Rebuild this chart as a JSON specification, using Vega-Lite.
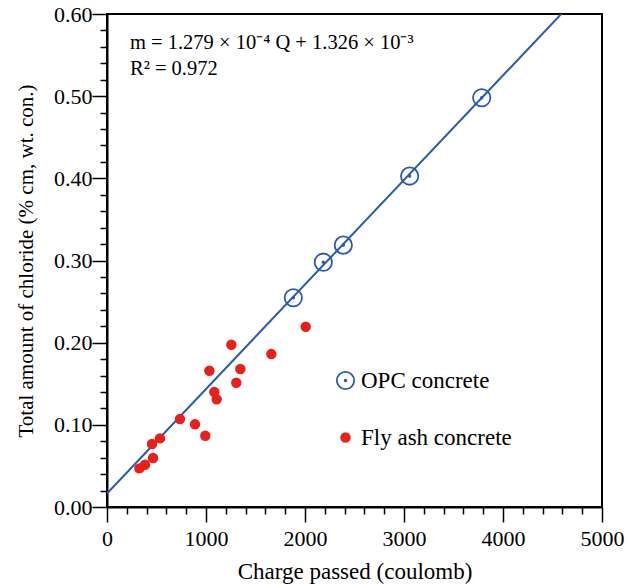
{
  "$schema": "https://vega.github.io/schema/vega-lite/v6.json",
  "width": 495,
  "height": 493,
  "autosize": {"type": "none"},
  "padding": {"left": 107, "top": 14, "right": 34, "bottom": 78},
  "background": "white",
  "config": {
    "font": "Liberation Serif",
    "view": {"stroke": "black", "strokeWidth": 2},
    "axis": {
      "grid": false,
      "domainColor": "black",
      "domainWidth": 2,
      "tickColor": "black",
      "tickWidth": 1.5,
      "labelFont": "Liberation Serif",
      "labelFontSize": 22,
      "labelColor": "black",
      "labelOverlap": false,
      "labelBound": false,
      "labelFlush": false,
      "titleFont": "Liberation Serif",
      "titleFontSize": 21,
      "titleFontWeight": "normal",
      "titleColor": "black"
    },
    "legend": {
      "labelFont": "Liberation Serif",
      "labelFontSize": 23,
      "labelColor": "black"
    }
  },
  "datasets": {
    "fit": [
      {"Q": 0, "m": 0.0165},
      {"Q": 4600, "m": 0.6015}
    ],
    "points": [
      {"type": "OPC concrete", "Q": 1882, "m": 0.2546},
      {"type": "OPC concrete", "Q": 2185, "m": 0.298},
      {"type": "OPC concrete", "Q": 2387, "m": 0.3187},
      {"type": "OPC concrete", "Q": 3057, "m": 0.4027},
      {"type": "OPC concrete", "Q": 3785, "m": 0.498},
      {"type": "Fly ash concrete", "Q": 2007, "m": 0.2194},
      {"type": "Fly ash concrete", "Q": 1256, "m": 0.1975},
      {"type": "Fly ash concrete", "Q": 1660, "m": 0.1861},
      {"type": "Fly ash concrete", "Q": 1034, "m": 0.1659},
      {"type": "Fly ash concrete", "Q": 1347, "m": 0.1679},
      {"type": "Fly ash concrete", "Q": 1306, "m": 0.1513},
      {"type": "Fly ash concrete", "Q": 1084, "m": 0.1399},
      {"type": "Fly ash concrete", "Q": 1108, "m": 0.131},
      {"type": "Fly ash concrete", "Q": 737, "m": 0.107},
      {"type": "Fly ash concrete", "Q": 889, "m": 0.1006},
      {"type": "Fly ash concrete", "Q": 993, "m": 0.0868},
      {"type": "Fly ash concrete", "Q": 535, "m": 0.0835},
      {"type": "Fly ash concrete", "Q": 455, "m": 0.0766},
      {"type": "Fly ash concrete", "Q": 465, "m": 0.0596},
      {"type": "Fly ash concrete", "Q": 384, "m": 0.0515},
      {"type": "Fly ash concrete", "Q": 327, "m": 0.047}
    ]
  },
  "layer": [
    {
      "data": {"name": "fit"},
      "mark": {"type": "line", "color": "#2a5cad", "strokeWidth": 2, "clip": true},
      "encoding": {
        "x": {
          "field": "Q", "type": "quantitative",
          "scale": {"domain": [0, 5000], "nice": false},
          "axis": {
            "orient": "bottom",
            "values": [0,200,400,600,800,1000,1200,1400,1600,1800,2000,2200,2400,2600,2800,3000,3200,3400,3600,3800,4000,4200,4400,4600,4800,5000],
            "tickCount": 100,
            "format": "d",
            "labelOverlap": false,
            "labelExpr": "datum.value % 1000 === 0 ? datum.label : ''",
            "tickSize": 15,
            "tickDash": {"condition": {"test": "datum.value % 1000 === 0", "value": [20, 0]}, "value": [7, 30]},
            "labelPadding": 6,
            "title": "Charge passed (coulomb)",
            "titleFontSize": 23,
            "titlePadding": 11
          }
        },
        "y": {
          "field": "m", "type": "quantitative",
          "scale": {"domain": [0, 0.6], "nice": false},
          "axis": {
            "orient": "left",
            "values": [0,0.02,0.04,0.06,0.08,0.1,0.12,0.14,0.16,0.18,0.2,0.22,0.24,0.26,0.28,0.3,0.32,0.34,0.36,0.38,0.4,0.42,0.44,0.46,0.48,0.5,0.52,0.54,0.56,0.58,0.6],
            "tickCount": 100,
            "format": ".2f",
            "labelOverlap": false,
            "labelExpr": "abs(datum.value * 10 - round(datum.value * 10)) < 0.001 ? datum.label : ''",
            "tickSize": 15,
            "tickDash": {"condition": {"test": "abs(datum.value * 10 - round(datum.value * 10)) < 0.001", "value": [20, 0]}, "value": [7, 30]},
            "labelPadding": 0,
            "title": "Total amount of chloride (% cm, wt. con.)",
            "titlePadding": 17
          }
        }
      }
    },
    {
      "data": {"name": "points"},
      "mark": {"type": "point", "opacity": 1, "strokeWidth": 1.8},
      "encoding": {
        "x": {"field": "Q", "type": "quantitative"},
        "y": {"field": "m", "type": "quantitative"},
        "shape": {
          "field": "type", "type": "nominal",
          "scale": {"domain": ["OPC concrete", "Fly ash concrete"], "range": ["M-1,0A1,1,0,1,1,1,0A1,1,0,1,1,-1,0ZM-0.1,0A0.1,0.1,0,1,1,0.1,0A0.1,0.1,0,1,1,-0.1,0Z", "circle"]},
          "legend": {"title": null, "orient": "none", "legendX": 227, "legendY": 355, "rowPadding": 33, "labelOffset": 4, "padding": 0, "symbolStrokeWidth": 1.8}
        },
        "stroke": {
          "field": "type", "type": "nominal",
          "scale": {"domain": ["OPC concrete", "Fly ash concrete"], "range": ["#2a5cad", "#e8201c"]}
        },
        "fill": {
          "field": "type", "type": "nominal",
          "scale": {"domain": ["OPC concrete", "Fly ash concrete"], "range": ["transparent", "#e8201c"]}
        },
        "size": {
          "field": "type", "type": "nominal",
          "scale": {"domain": ["OPC concrete", "Fly ash concrete"], "range": [300, 75]}
        }
      }
    },
    {
      "data": {"values": [{"label": "m = 1.279 × 10⁻⁴ Q + 1.326 × 10⁻³"}]},
      "mark": {"type": "text", "align": "left", "baseline": "alphabetic", "fontSize": 20.5, "color": "black", "font": "Liberation Serif"},
      "encoding": {
        "x": {"datum": 232, "type": "quantitative"},
        "y": {"datum": 0.557, "type": "quantitative"},
        "text": {"field": "label"}
      }
    },
    {
      "data": {"values": [{"label": "R² = 0.972"}]},
      "mark": {"type": "text", "align": "left", "baseline": "alphabetic", "fontSize": 20.5, "color": "black", "font": "Liberation Serif"},
      "encoding": {
        "x": {"datum": 232, "type": "quantitative"},
        "y": {"datum": 0.5255, "type": "quantitative"},
        "text": {"field": "label"}
      }
    }
  ]
}
